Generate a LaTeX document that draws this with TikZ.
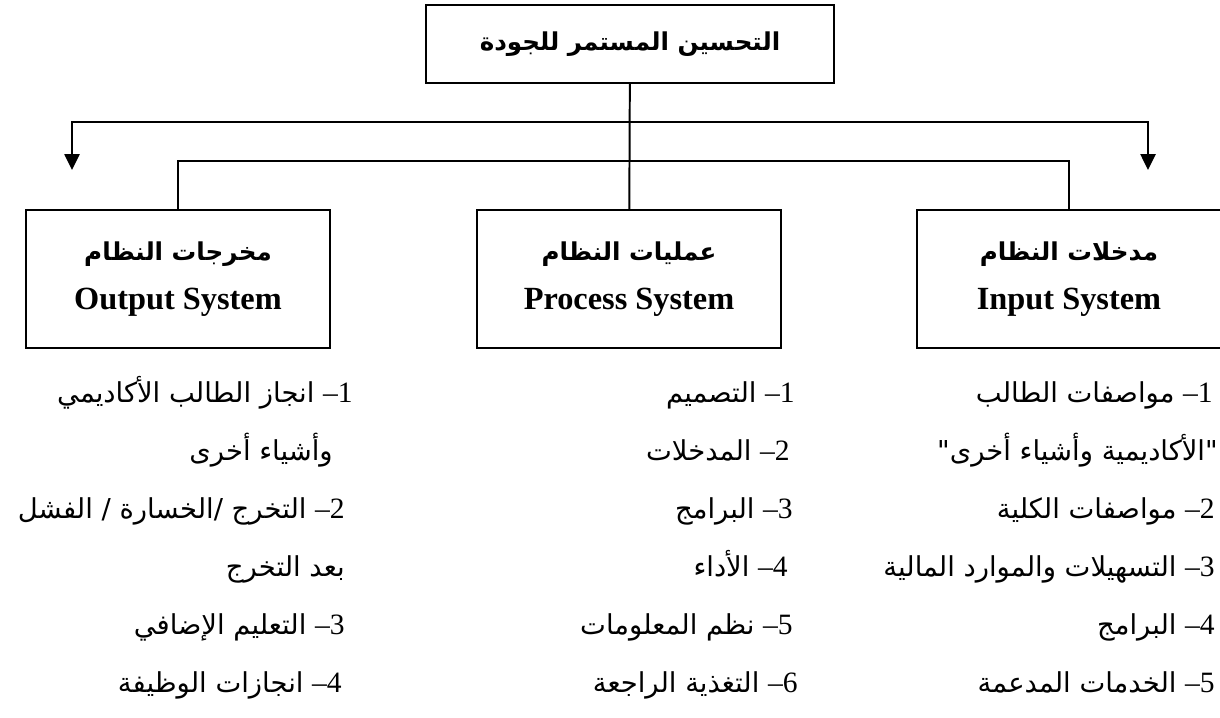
\documentclass[tikz,border=0pt]{standalone}
\usepackage{fontspec}
\setmainfont{Liberation Serif}
\newfontfamily\arabicfont[Script=Arabic]{DejaVu Sans}
\TeXXeTstate=1
\usetikzlibrary{arrows.meta,positioning}
\newcommand{\num}[1]{{\rmfamily\fontsize{21}{25}\selectfont\hbox{#1}\hbox{–}}}
\newcommand{\boxtitle}{\fontsize{17.5}{35}\selectfont\arabicfont}

\begin{document}
\begin{tikzpicture}[x=0.025cm,y=-0.025cm,
  sysbox/.style={draw, line width=1.6pt, minimum width=7.6cm, minimum height=3.45cm,
    align=center, inner sep=0pt, font=\bfseries\fontsize{23}{35}\selectfont},
  topbox/.style={draw, line width=1.6pt, minimum width=10.2cm, minimum height=1.95cm,
    inner sep=0pt, font=\bfseries\fontsize{17.5}{28}\selectfont\arabicfont},
  entry/.style={anchor=base east, inner sep=0pt, font=\fontsize{19.5}{25}\selectfont\arabicfont},
  link/.style={line width=1.4pt},
  arrowline/.style={line width=1.4pt, -{Triangle[width=0.38cm,length=0.4cm]}}]
  \useasboundingbox (0,0) rectangle (1220,717);
  % boxes
  \node[topbox] (quality) at (630,44) {\raisebox{-0.12cm}{\beginR التحسين المستمر للجودة\endR}};
  \node[sysbox] (outbox) at (178,279) {{\boxtitle\beginR مخرجات النظام\endR}\\Output System};
  \node[sysbox] (procbox) at (629,279) {{\boxtitle\beginR عمليات النظام\endR}\\Process System};
  \node[sysbox] (inbox) at (1069,279) {{\boxtitle\beginR مدخلات النظام\endR}\\Input System};
  % connectors
  \coordinate (upbar) at (629,122);
  \coordinate (lowbar) at (629,161);
  \coordinate (outtip) at (72,170);
  \coordinate (intip) at (1148,170);
  \draw[link] (quality) -- (procbox);
  \draw[link] (outbox.north) |- (lowbar) -| (inbox.north);
  \draw[arrowline] (upbar) -| (outtip);
  \draw[arrowline] (upbar) -| (intip);
  % input list
  \node[entry] (in1) at (1213,402) {\beginR\num{1} مواصفات الطالب\endR};
  \node[entry] (in1b) at (1218,460) {\beginR"الأكاديمية وأشياء أخرى"\endR};
  \node[entry] (in2) at (1215,518) {\beginR\num{2} مواصفات الكلية\endR};
  \node[entry] (in3) at (1215,576) {\beginR\num{3} التسهيلات والموارد المالية\endR};
  \node[entry] (in4) at (1215,634) {\beginR\num{4} البرامج\endR};
  \node[entry] (in5) at (1215,692) {\beginR\num{5} الخدمات المدعمة\endR};
  % process list
  \node[entry] (pr1) at (795,402) {\beginR\num{1} التصميم\endR};
  \node[entry] (pr2) at (790,460) {\beginR\num{2} المدخلات\endR};
  \node[entry] (pr3) at (793,518) {\beginR\num{3} البرامج\endR};
  \node[entry] (pr4) at (788,576) {\beginR\num{4} الأداء\endR};
  \node[entry] (pr5) at (793,634) {\beginR\num{5} نظم المعلومات\endR};
  \node[entry] (pr6) at (798,692) {\beginR\num{6} التغذية الراجعة\endR};
  % output list
  \node[entry] (ou1) at (353,402) {\beginR\num{1} انجاز الطالب الأكاديمي\endR};
  \node[entry] (ou1b) at (333,460) {\beginR وأشياء أخرى\endR};
  \node[entry] (ou2) at (345,518) {\beginR\num{2} التخرج /الخسارة / الفشل\endR};
  \node[entry] (ou2b) at (345,576) {\beginR بعد التخرج\endR};
  \node[entry] (ou3) at (345,634) {\beginR\num{3} التعليم الإضافي\endR};
  \node[entry] (ou4) at (342,692) {\beginR\num{4} انجازات الوظيفة\endR};
\end{tikzpicture}
\end{document}
